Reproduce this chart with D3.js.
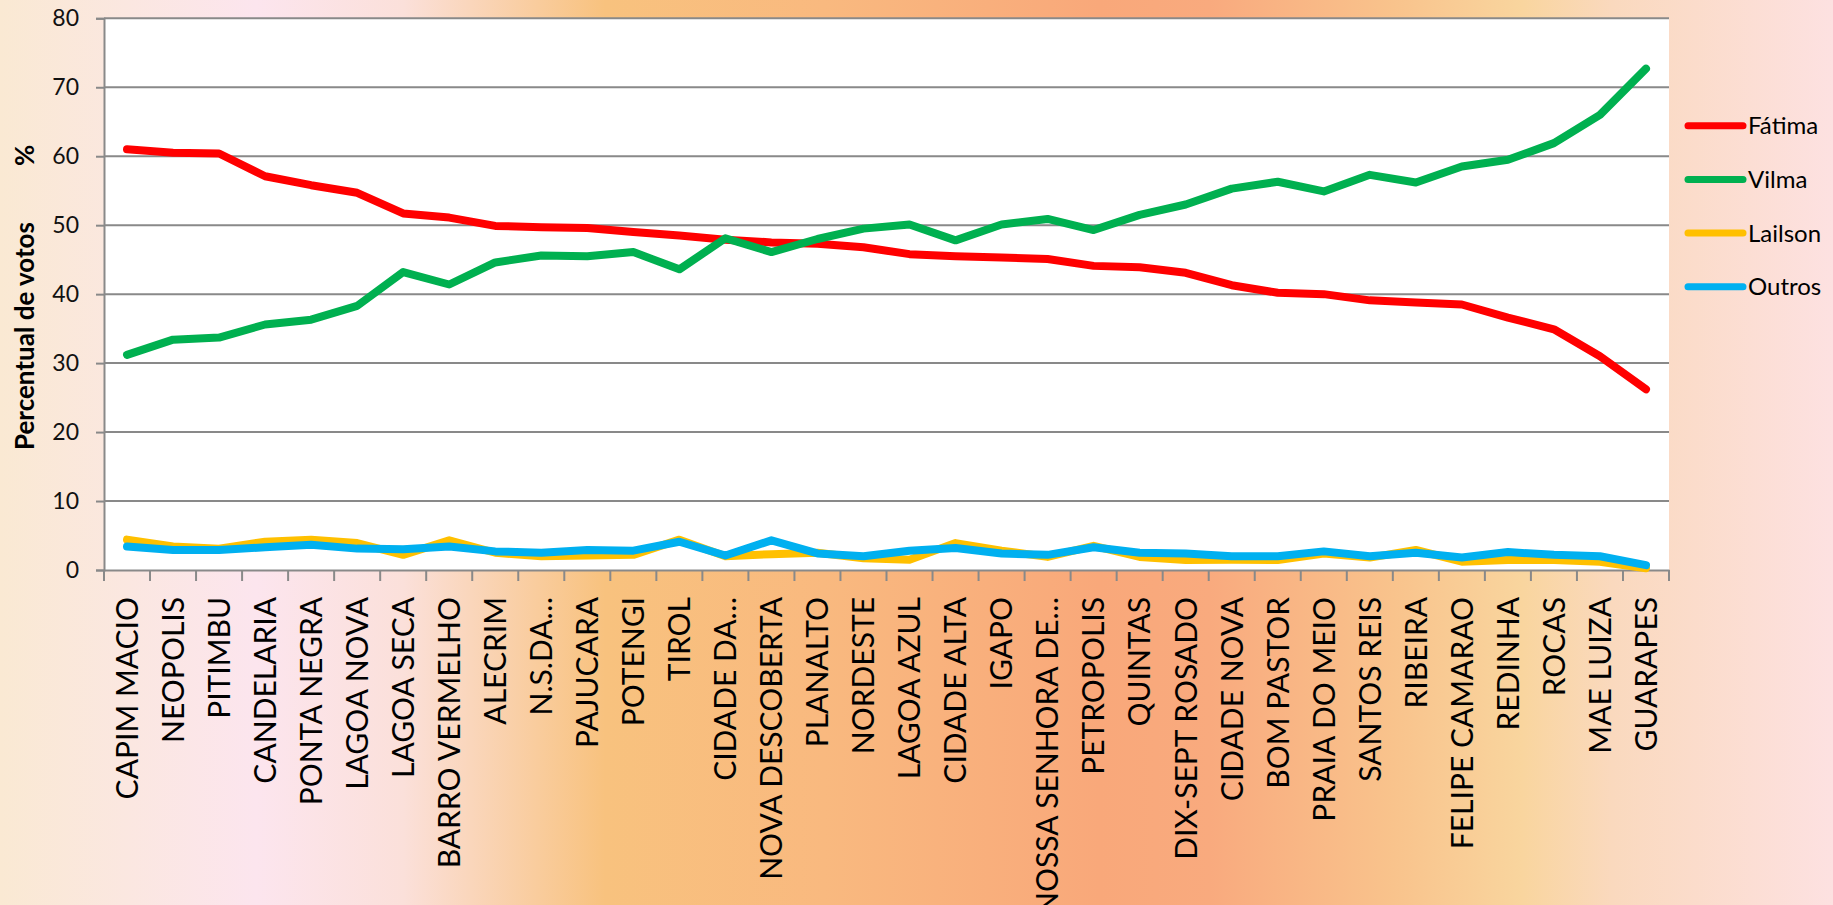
<!DOCTYPE html>
<html>
<head>
<meta charset="utf-8">
<script src="https://cdn.jsdelivr.net/npm/d3@7"></script>
<style>
  body { margin: 0; }
  svg { display: block; font-family: Lato, "Open Sans", sans-serif; }
</style>
</head>
<body>
<div id="divChart"></div>
<script>
// bairros
var categories = ["CAPIM MACIO", "NEOPOLIS", "PITIMBU", "CANDELARIA", "PONTA NEGRA",
    "LAGOA NOVA", "LAGOA SECA", "BARRO VERMELHO", "ALECRIM", "N.S.DA…", "PAJUCARA",
    "POTENGI", "TIROL", "CIDADE DA…", "NOVA DESCOBERTA", "PLANALTO", "NORDESTE",
    "LAGOA AZUL", "CIDADE ALTA", "IGAPO", "NOSSA SENHORA DE…", "PETROPOLIS", "QUINTAS",
    "DIX-SEPT ROSADO", "CIDADE NOVA", "BOM PASTOR", "PRAIA DO MEIO", "SANTOS REIS",
    "RIBEIRA", "FELIPE CAMARAO", "REDINHA", "ROCAS", "MAE LUIZA", "GUARAPES"];

var fatima = [61.0, 60.5, 60.4, 57.1, 55.8, 54.7, 51.7, 51.1, 49.9, 49.7, 49.6,
    49.0, 48.5, 47.9, 47.5, 47.3, 46.8, 45.8, 45.5, 45.3, 45.1, 44.1, 43.9,
    43.1, 41.3, 40.2, 40.0, 39.1, 38.8, 38.5, 36.6, 34.9, 31.0, 26.2];

var vilma = [31.2, 33.4, 33.7, 35.6, 36.3, 38.3, 43.2, 41.4, 44.6, 45.6, 45.5,
    46.1, 43.6, 48.1, 46.1, 48.0, 49.5, 50.1, 47.8, 50.1, 50.9, 49.3, 51.5,
    53.0, 55.3, 56.3, 54.9, 57.3, 56.2, 58.5, 59.5, 61.9, 66.0, 72.7];

var lailson = [4.4, 3.4, 3.1, 4.1, 4.4, 3.9, 2.2, 4.3, 2.5, 2.0, 2.1,
    2.2, 4.4, 2.0, 2.3, 2.5, 1.7, 1.5, 3.9, 2.8, 1.9, 3.5, 1.9,
    1.45, 1.5, 1.45, 2.4, 1.8, 2.9, 1.2, 1.45, 1.45, 1.2, 0.25];

var outros = [3.4, 2.9, 2.9, 3.3, 3.65, 3.1, 3.0, 3.4, 2.7, 2.5, 2.9,
    2.8, 4.1, 2.1, 4.3, 2.4, 2.0, 2.8, 3.2, 2.4, 2.2, 3.3, 2.5,
    2.4, 2.0, 2.0, 2.7, 2.0, 2.5, 1.8, 2.6, 2.2, 2.0, 0.7];

var seriesNames = ["Fátima", "Vilma", "Lailson", "Outros"];
var seriesColors = ["#ff0000", "#00b050", "#ffc000", "#00b0f0"];
var yTicks = [0, 10, 20, 30, 40, 50, 60, 70, 80];

function init()
{
    var width = 1833;
    var height = 905;
    var left = 104, right = 1669, top = 18.3, bottom = 570;

    var svg = d3.select("#divChart").append("svg")
        .attr("width", width)
        .attr("height", height);

    // fundo em degradê
    var grad = svg.append("defs").append("linearGradient")
        .attr("id", "bg")
        .attr("x1", "0").attr("x2", "1").attr("y1", "0").attr("y2", "0");
    var stops = [[0, "#fae9d3"], [0.14, "#fce5ee"], [0.22, "#fbe0da"], [0.33, "#f8c27e"],
        [0.45, "#f9b97f"], [0.6, "#f9a87a"], [0.66, "#f9aa7e"], [0.76, "#f9c38c"],
        [0.83, "#f9d59e"], [0.88, "#fad9be"], [1, "#fde1e1"]];
    grad.selectAll("stop").data(stops).enter().append("stop")
        .attr("offset", function(d){ return d[0]; })
        .attr("stop-color", function(d){ return d[1]; });

    svg.append("rect")
        .attr("width", width).attr("height", height)
        .attr("fill", "url(#bg)");

    svg.append("rect")
        .attr("x", left).attr("y", top)
        .attr("width", right - left).attr("height", bottom - top)
        .attr("fill", "#ffffff");

    var x = d3.scaleBand().domain(categories).range([left, right]);
    var y = d3.scaleLinear().domain([0, 80]).range([bottom, top]);

    // linhas de grade
    svg.append("g").selectAll("line").data(yTicks.slice(1)).enter().append("line")
        .attr("x1", left).attr("x2", right)
        .attr("y1", function(d){ return y(d); })
        .attr("y2", function(d){ return y(d); })
        .style("stroke", "#898989")
        .style("stroke-width", 2);

    // eixo Y
    var yAxis = d3.axisLeft(y).tickValues(yTicks).tickSize(8).tickPadding(17);
    var gy = svg.append("g")
        .attr("transform", "translate(" + left + ",0)")
        .call(yAxis);
    gy.select(".domain").style("stroke", "#898989").style("stroke-width", 2);
    gy.selectAll(".tick line").style("stroke", "#898989").style("stroke-width", 2);
    gy.selectAll(".tick text")
        .style("font-family", "Lato, sans-serif")
        .style("font-size", "23px")
        .style("fill", "#111");

    // eixo X
    var xAxis = d3.axisBottom(x).tickSize(0);
    var gx = svg.append("g")
        .attr("transform", "translate(0," + bottom + ")")
        .call(xAxis);
    gx.select(".domain").style("stroke", "#898989").style("stroke-width", 2);
    gx.selectAll(".tick text")
        .attr("transform", "rotate(-90)")
        .attr("x", -27)
        .attr("y", 0)
        .attr("dy", "0.36em")
        .style("text-anchor", "end")
        .style("font-family", "Lato, sans-serif")
        .style("font-size", "30px")
        .style("fill", "#000");

    // marcas entre as categorias
    var bounds = categories.map(function(c){ return x(c); }).concat([right]);
    gx.append("g").selectAll("line").data(bounds).enter().append("line")
        .attr("x1", function(d){ return d; })
        .attr("x2", function(d){ return d; })
        .attr("y1", 0).attr("y2", 11)
        .style("stroke", "#898989")
        .style("stroke-width", 2);

    // título do eixo Y
    var title = svg.append("text")
        .attr("transform", "translate(34,450) rotate(-90)")
        .style("font-family", "Lato, sans-serif")
        .style("font-weight", "bold")
        .style("font-size", "26px")
        .style("fill", "#000");
    title.append("tspan").text("Percentual de votos");
    title.append("tspan").attr("dx", 56).text("%");

    // séries
    var allSeries = [fatima, vilma, lailson, outros];
    var line = d3.line()
        .x(function(d, i){ return x(categories[i]) + x.bandwidth() / 2; })
        .y(function(d){ return y(d); });

    allSeries.forEach(function(s, k) {
        svg.append("path")
            .attr("d", line(s))
            .style("fill", "none")
            .style("stroke", seriesColors[k])
            .style("stroke-width", 8)
            .style("stroke-linejoin", "round")
            .style("stroke-linecap", "round");
    });

    // legenda
    var legend = svg.append("g").selectAll("g").data(seriesNames).enter().append("g")
        .attr("transform", function(d, i){ return "translate(1688," + (125.7 + i * 53.7) + ")"; });
    legend.append("line")
        .attr("x1", 0).attr("x2", 55)
        .style("stroke", function(d, i){ return seriesColors[i]; })
        .style("stroke-width", 7)
        .style("stroke-linecap", "round");
    legend.append("text")
        .attr("x", 60)
        .attr("dy", "0.35em")
        .style("font-family", "Lato, sans-serif")
        .style("font-size", "24px")
        .style("fill", "#000")
        .text(function(d){ return d; });
}

window.onload = init;
</script>
</body>
</html>
